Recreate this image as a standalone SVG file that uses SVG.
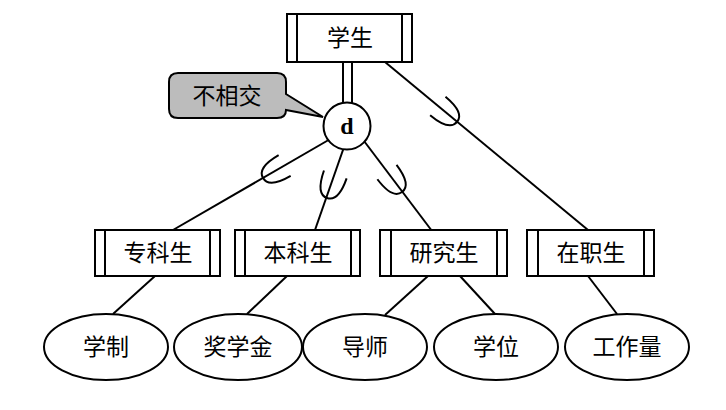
<svg xmlns="http://www.w3.org/2000/svg" width="726" height="410" viewBox="0 0 726 410">
<style>
.box{fill:#fff;stroke:#000;stroke-width:2}
.ln{fill:none;stroke:#000;stroke-width:2}
.ell{fill:#fff;stroke:#000;stroke-width:2}
.t{font-family:"Noto Sans CJK SC","Noto Sans CJK JP",sans-serif;font-size:23px;fill:#000;text-anchor:middle}
.sub{fill:none;stroke:#000;stroke-width:2}
</style>
<defs>
<path id="u" d="M 13,-12 C 2,-12 -12,-10 -12,0 C -12,10 2,12 13,12"/>
</defs>
<rect width="726" height="410" fill="#fff"/>
<g id="connectors">
<line class="ln" x1="343" y1="62" x2="343" y2="106"/>
<line class="ln" x1="352" y1="62" x2="352" y2="106"/>
<line class="ln" x1="332" y1="138" x2="173" y2="230"/>
<line class="ln" x1="345.6" y1="142.5" x2="315" y2="230"/>
<line class="ln" x1="361" y1="137" x2="432" y2="231"/>
<line class="ln" x1="385" y1="62" x2="588" y2="230"/>
<line class="ln" x1="155" y1="276" x2="113" y2="314"/>
<line class="ln" x1="287" y1="276" x2="247" y2="314"/>
<line class="ln" x1="428" y1="276" x2="385" y2="315"/>
<line class="ln" x1="460" y1="276" x2="495" y2="314"/>
<line class="ln" x1="588" y1="276" x2="617" y2="314"/>
<use href="#u" class="sub" transform="translate(273.4,172) rotate(-30.1)"/>
<use href="#u" class="sub" transform="translate(331,186.7) rotate(-70.7)"/>
<use href="#u" class="sub" transform="translate(394.8,182.4) rotate(-127.1)"/>
<use href="#u" class="sub" transform="translate(447.8,114.3) rotate(-140.2)"/>
</g>
<g id="student">
<rect class="box" x="287" y="14" width="125" height="48"/>
<line class="ln" x1="297" y1="14" x2="297" y2="62"/>
<line class="ln" x1="402" y1="14" x2="402" y2="62"/>
<text class="t" x="350" y="46">学生</text>
</g>
<g id="disjoint">
<circle cx="347" cy="126" r="23.5" fill="#fff" stroke="#000" stroke-width="2"/>
<text x="347" y="134" font-family="Liberation Serif, serif" font-size="24" font-weight="bold" text-anchor="middle">d</text>
</g>
<g id="callout">
<path d="M 178,73 H 277 Q 286,73 286,82 V 94 L 323,117 L 286,110 Q 286,118 277,118 H 178 Q 169,118 169,109 V 82 Q 169,73 178,73 Z" fill="#bcbcbc" stroke="#000" stroke-width="2"/>
<text class="t" x="227" y="104">不相交</text>
</g>
<g id="zhuanke">
<rect class="box" x="95" y="230" width="125" height="46"/>
<line class="ln" x1="105" y1="230" x2="105" y2="276"/>
<line class="ln" x1="210" y1="230" x2="210" y2="276"/>
<text class="t" x="158" y="261">专科生</text>
</g>
<g id="benke">
<rect class="box" x="235" y="230" width="125" height="46"/>
<line class="ln" x1="245" y1="230" x2="245" y2="276"/>
<line class="ln" x1="351" y1="230" x2="351" y2="276"/>
<text class="t" x="298" y="261">本科生</text>
</g>
<g id="yanjiu">
<rect class="box" x="380" y="230" width="127" height="46"/>
<line class="ln" x1="391" y1="230" x2="391" y2="276"/>
<line class="ln" x1="497" y1="230" x2="497" y2="276"/>
<text class="t" x="444" y="261">研究生</text>
</g>
<g id="zaizhi">
<rect class="box" x="527" y="230" width="127" height="46"/>
<line class="ln" x1="538" y1="230" x2="538" y2="276"/>
<line class="ln" x1="644" y1="230" x2="644" y2="276"/>
<text class="t" x="591" y="261">在职生</text>
</g>
<g id="xuezhi">
<ellipse class="ell" cx="106" cy="347" rx="62" ry="33"/>
<text class="t" x="106" y="355">学制</text>
</g>
<g id="jiangxuejin">
<ellipse class="ell" cx="238" cy="347" rx="64" ry="33"/>
<text class="t" x="238" y="355">奖学金</text>
</g>
<g id="daoshi">
<ellipse class="ell" cx="365" cy="347" rx="62" ry="33"/>
<text class="t" x="365" y="355">导师</text>
</g>
<g id="xuewei">
<ellipse class="ell" cx="496" cy="347" rx="62" ry="33"/>
<text class="t" x="496" y="355">学位</text>
</g>
<g id="gongzuoliang">
<ellipse class="ell" cx="627" cy="347" rx="62" ry="33"/>
<text class="t" x="627" y="355">工作量</text>
</g>
</svg>
